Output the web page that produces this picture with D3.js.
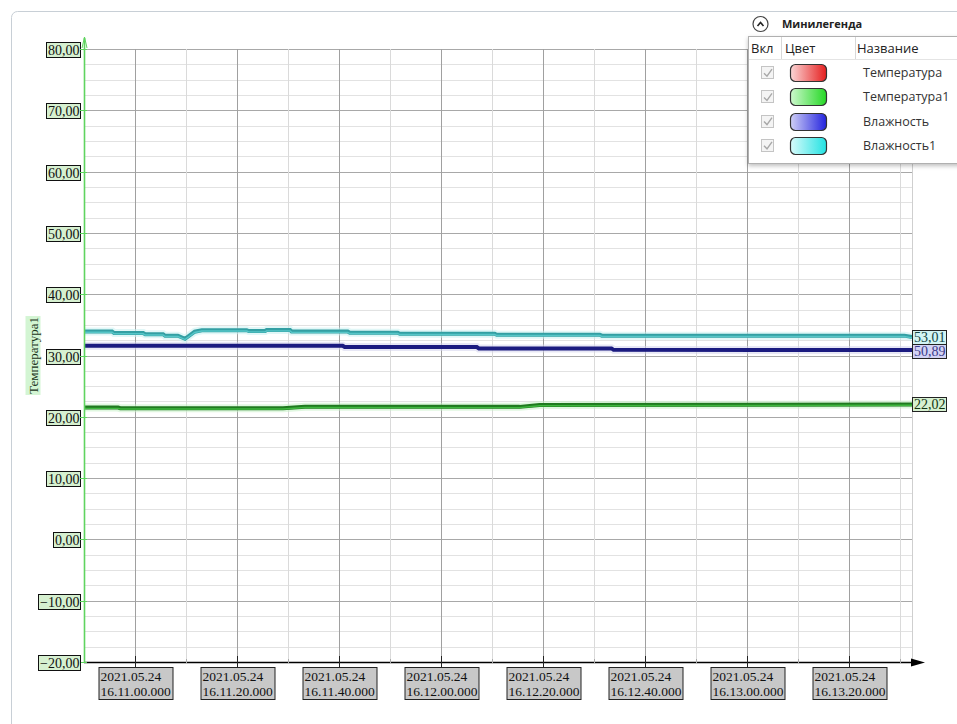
<!DOCTYPE html>
<html>
<head>
<meta charset="utf-8">
<script src="https://cdn.jsdelivr.net/npm/d3@7"></script>
<style>
  body { margin: 0; background: #fff; }
  svg text { font-family: "Liberation Serif", "DejaVu Serif", serif; }
  .legend text { font-family: "Open Sans", "Noto Sans", sans-serif; }
</style>
</head>
<body>
<svg id="chart" width="957" height="724"></svg>
<script>
// time in seconds from 16:10:50
var startTime = '2021-05-24T16:10:50';
var endSec = 162.3;

var humidity1Sec = [0, 5.5, 5.9, 11.6, 12, 15.5, 15.9, 18.4, 19.8, 21.7, 23.1, 31.9, 32.3, 35.5, 35.8, 40.4, 40.7, 51.7, 52.1, 61.5, 61.9, 80.5, 80.9, 101.1, 101.5, 160.8, 162.3];
var humidity1Val = [53.93, 53.93, 53.67, 53.67, 53.47, 53.47, 53.22, 53.22, 52.73, 53.88, 54.12, 54.12, 53.99, 53.99, 54.15, 54.15, 53.91, 53.91, 53.71, 53.71, 53.55, 53.55, 53.39, 53.39, 53.24, 53.24, 53.01];

var humiditySec = [0, 50.7, 51.1, 77, 77.4, 103.4, 103.8, 162.3];
var humidityVal = [51.59, 51.59, 51.38, 51.38, 51.15, 51.15, 50.93, 50.89];

var temp1Sec = [0, 6.7, 7.1, 39, 43.3, 85.4, 89.3, 162.3];
var temp1Val = [21.50, 21.50, 21.40, 21.40, 21.65, 21.62, 21.93, 22.02];

var tempTicks = [-20, -10, 0, 10, 20, 30, 40, 50, 60, 70, 80];

var legendNames = ['Температура', 'Температура1', 'Влажность', 'Влажность1'];
var legendLight = ['#fbd6d6', '#cdf8cd', '#cfcff6', '#d8fbfb'];
var legendDark = ['#e51e1e', '#25d825', '#2323de', '#22e2e2'];

var svg = d3.select('#chart');
var padding = { t: 49, r: 45, b: 62, l: 84 };
var chartRight = 912;
var chartBottom = 662;

var t0 = new Date(startTime);
function secToDate(s) { return new Date(t0.getTime() + s * 1000); }

var xScale = d3.scaleTime()
  .domain([t0, secToDate(endSec)])
  .range([padding.l, chartRight]);
var yScale = d3.scaleLinear()
  .domain([-20, 80])
  .range([chartBottom, padding.t]);
// humidity is drawn on its own hidden scale
var yHum = d3.scaleLinear()
  .domain([0, 100])
  .range([chartBottom, padding.t]);

var fmtNum = function(v) { return d3.format('.2f')(v).replace('.', ','); };

// frame
svg.append('rect')
  .attr('x', 11.5).attr('y', 11.5)
  .attr('width', 1000).attr('height', 800)
  .attr('rx', 6)
  .style('fill', '#fff')
  .style('stroke', '#c8cfd6');

var gridG = svg.append('g');

// horizontal grid every 2.5
d3.range(-20, 80.1, 2.5).forEach(function(v) {
  var major = v % 10 == 0;
  gridG.append('line')
    .attr('x1', padding.l).attr('x2', chartRight)
    .attr('y1', Math.round(yScale(v)) + 0.5).attr('y2', Math.round(yScale(v)) + 0.5)
    .style('stroke', major ? '#a8a8a8' : '#e2e2e2');
});

// vertical grid every 10 s
var minorTicks = xScale.ticks(d3.timeSecond.every(10)).filter(d => d > t0);
minorTicks.forEach(function(d) {
  var major = d.getSeconds() % 20 == 0;
  gridG.append('line')
    .attr('x1', Math.round(xScale(d)) + 0.5).attr('x2', Math.round(xScale(d)) + 0.5)
    .attr('y1', padding.t).attr('y2', chartBottom)
    .style('stroke', major ? '#a0a0a0' : '#dadada');
});
gridG.append('line')
  .attr('x1', chartRight + 0.5).attr('x2', chartRight + 0.5)
  .attr('y1', padding.t).attr('y2', chartBottom)
  .style('stroke', '#cfcfcf');

// series
function drawSeries(secs, vals, scale, halo, outer, inner) {
  var pts = secs.map((s, i) => [xScale(secToDate(s)), scale(vals[i])]);
  var line = d3.line();
  var g = svg.append('g');
  g.append('path').attr('d', line(pts))
    .style('fill', 'none').style('stroke', halo).style('stroke-width', 8).style('opacity', 0.55);
  g.append('path').attr('d', line(pts))
    .style('fill', 'none').style('stroke', outer).style('stroke-width', 4);
  if (inner) {
    g.append('path').attr('d', line(pts.map(p => [p[0], p[1] + 0.8])))
      .style('fill', 'none').style('stroke', inner).style('stroke-width', 1.4);
  }
  return pts[pts.length - 1];
}

var endTemp1 = drawSeries(temp1Sec, temp1Val, yScale, '#c6f0c6', '#1f7a1f', '#3fb83f');
var endHum = drawSeries(humiditySec, humidityVal, yHum, '#d4d4ec', '#1b1b80', null);
var endHum1 = drawSeries(humidity1Sec, humidity1Val, yHum, '#c8f0f0', '#339fa3', '#56c6c8');

// x axis
var xAxisG = svg.append('g');
xAxisG.append('line')
  .attr('x1', padding.l).attr('x2', chartRight + 2)
  .attr('y1', chartBottom + 0.5).attr('y2', chartBottom + 0.5)
  .style('stroke', '#000').style('stroke-width', 1.5);
xAxisG.append('path')
  .attr('d', 'M' + (chartRight - 1) + ',' + (chartBottom - 3.5) + 'L' + (chartRight + 13) + ',' + (chartBottom + 0.5) + 'L' + (chartRight - 1) + ',' + (chartBottom + 4.5) + 'Z')
  .style('fill', '#000');

minorTicks.forEach(function(d) {
  var major = d.getSeconds() % 20 == 0;
  var x = Math.round(xScale(d)) + 0.5;
  xAxisG.append('line')
    .attr('x1', x).attr('x2', x)
    .attr('y1', major ? chartBottom - 6 : chartBottom - 3)
    .attr('y2', major ? chartBottom + 5 : chartBottom + 1)
    .style('stroke', major ? '#222' : '#aaa');
  if (!major) return;
  var lg = xAxisG.append('g').attr('transform', 'translate(' + (x - 37) + ',' + (chartBottom + 5) + ')');
  lg.append('rect')
    .attr('x', 0.5).attr('y', 0.5)
    .attr('width', 74).attr('height', 32)
    .style('fill', '#c8c8c8').style('stroke', '#222');
  lg.append('text').attr('x', 2).attr('y', 14).style('font-size', '13.5px').style('fill', '#111')
    .text(d3.timeFormat('%Y.%m.%d')(d));
  lg.append('text').attr('x', 2).attr('y', 29).style('font-size', '13.5px').style('fill', '#111')
    .text(d3.timeFormat('%H.%M.%S.%L')(d));
});

// y axis
var yAxisG = svg.append('g');
yAxisG.append('line')
  .attr('x1', padding.l + 0.5).attr('x2', padding.l + 0.5)
  .attr('y1', 38).attr('y2', chartBottom + 1)
  .style('stroke', '#5fd45f').style('stroke-width', 1.6);
yAxisG.append('path')
  .attr('d', 'M' + (padding.l - 2) + ',48L' + (padding.l + 0.5) + ',37L' + (padding.l + 3) + ',48')
  .style('fill', 'none').style('stroke', '#5fd45f').style('stroke-width', 1);

tempTicks.forEach(function(v) {
  var y = Math.round(yScale(v)) + 0.5;
  yAxisG.append('line')
    .attr('x1', padding.l - 4).attr('x2', padding.l + 3)
    .attr('y1', y).attr('y2', y)
    .style('stroke', '#5fd45f');
  var t = yAxisG.append('text')
    .attr('x', 79.5).attr('y', y + 5)
    .style('text-anchor', 'end').style('font-size', '14px').style('fill', '#111')
    .text(fmtNum(v));
  var bb = t.node().getBBox();
  yAxisG.insert('rect', 'text')
    .attr('x', Math.round(bb.x) - 1.5).attr('y', Math.round(y - 8) + 0.5)
    .attr('width', 82 - Math.round(bb.x)).attr('height', 15)
    .style('fill', '#d6f0d0').style('stroke', '#111');
});

// axis title
var titleG = svg.append('g').attr('transform', 'translate(33,' + ((padding.t + chartBottom) / 2) + ') rotate(-90)');
var title = titleG.append('text')
  .attr('x', 0).attr('y', 4.5)
  .style('text-anchor', 'middle').style('font-size', '13px').style('fill', '#1a331a')
  .text('Температура1');
var tb = title.node().getBBox();
titleG.insert('rect', 'text')
  .attr('x', tb.x - 1).attr('y', tb.y)
  .attr('width', tb.width + 2).attr('height', tb.height)
  .style('fill', '#d3f5d3');

// last values
var endLabels = [
  { y: endHum1[1], text: fmtNum(humidity1Val[humidity1Val.length - 1]), fill: '#d2f4f4', color: '#114444' },
  { y: endHum[1], text: fmtNum(humidityVal[humidityVal.length - 1]), fill: '#d2d2f4', color: '#3a3a8a' },
  { y: endTemp1[1], text: fmtNum(temp1Val[temp1Val.length - 1]), fill: '#d6f0d0', color: '#113311' }
];
endLabels.sort((a, b) => a.y - b.y);
for (var i = 1; i < endLabels.length; i++) {
  var prev = endLabels[i - 1], cur = endLabels[i];
  if (cur.y - prev.y < 14) {
    var mid = (cur.y + prev.y) / 2;
    prev.y = mid - 7; cur.y = mid + 7;
  }
}
endLabels.forEach(function(d) {
  var top = Math.round(d.y - 7) + 0.5;
  svg.append('rect')
    .attr('x', chartRight + 0.5).attr('y', top)
    .attr('width', 34).attr('height', 14)
    .style('fill', d.fill).style('stroke', '#222');
  svg.append('text')
    .attr('x', chartRight + 2).attr('y', top + 11.5)
    .style('font-size', '14px').style('fill', d.color)
    .text(d.text);
});

// mini legend
var legendG = svg.append('g').attr('class', 'legend');
legendG.append('circle')
  .attr('cx', 760.5).attr('cy', 24).attr('r', 7.5)
  .style('fill', '#fff').style('stroke', '#444').style('stroke-width', 1.2);
legendG.append('path')
  .attr('d', 'M757.5,26L760.5,22.5L763.5,26')
  .style('fill', 'none').style('stroke', '#222').style('stroke-width', 1.6);
legendG.append('text')
  .attr('x', 782).attr('y', 28)
  .style('font-size', '11px').style('font-weight', 'bold').style('fill', '#222')
  .text('Минилегенда');

var defs = svg.append('defs');
var shadow = defs.append('filter').attr('id', 'shadow').attr('x', '-10%').attr('y', '-10%').attr('width', '130%').attr('height', '130%');
shadow.append('feDropShadow').attr('dx', 0).attr('dy', 2).attr('stdDeviation', 2).attr('flood-color', '#000').attr('flood-opacity', 0.25);

legendG.append('rect')
  .attr('x', 748.5).attr('y', 36.5)
  .attr('width', 230).attr('height', 127)
  .style('fill', '#fff').style('stroke', '#b0b0b0')
  .attr('filter', 'url(#shadow)');
legendG.append('line')
  .attr('x1', 749).attr('x2', 957).attr('y1', 59.5).attr('y2', 59.5)
  .style('stroke', '#e4e4e4');
[781.5, 855.5].forEach(function(x) {
  legendG.append('line')
    .attr('x1', x).attr('x2', x).attr('y1', 37).attr('y2', 59)
    .style('stroke', '#d8d8d8');
});
legendG.append('text').attr('x', 751).attr('y', 53).style('font-size', '13px').style('fill', '#222').text('Вкл');
legendG.append('text').attr('x', 785).attr('y', 53).style('font-size', '13px').style('fill', '#222').text('Цвет');
legendG.append('text').attr('x', 857).attr('y', 53).style('font-size', '13px').style('fill', '#222').text('Название');

legendNames.forEach(function(name, i) {
  var cy = 72.7 + i * 24.2;
  var grad = defs.append('linearGradient').attr('id', 'sw' + i);
  grad.append('stop').attr('offset', '0%').attr('stop-color', legendLight[i]);
  grad.append('stop').attr('offset', '100%').attr('stop-color', legendDark[i]);

  legendG.append('rect')
    .attr('x', 761.5).attr('y', Math.round(cy - 6.5) + 0.5)
    .attr('width', 12).attr('height', 12)
    .style('fill', '#f4f4f4').style('stroke', '#c4c4c4');
  legendG.append('path')
    .attr('d', 'M764,' + (cy + 0.5) + 'L767,' + (cy + 3.5) + 'L772,' + (cy - 3.5))
    .style('fill', 'none').style('stroke', '#a8a8a8').style('stroke-width', 1.4);
  legendG.append('rect')
    .attr('x', 790.5).attr('y', Math.round(cy - 8.5) + 0.5)
    .attr('width', 36).attr('height', 17).attr('rx', 5)
    .style('fill', 'url(#sw' + i + ')').style('stroke', '#333').style('stroke-width', 1.2);
  legendG.append('text')
    .attr('x', 863).attr('y', cy + 4.5)
    .style('font-size', '12.5px').style('fill', '#333')
    .text(name);
});
</script>
</body>
</html>
